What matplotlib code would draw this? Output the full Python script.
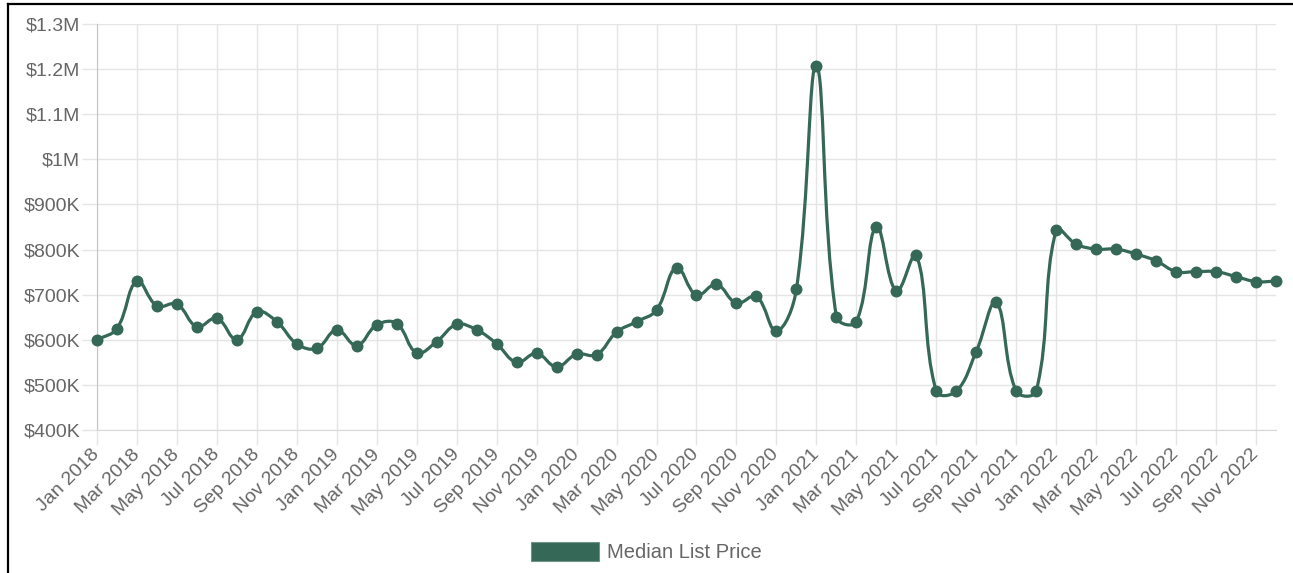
import numpy as np
import matplotlib
matplotlib.use("Agg")
import matplotlib.pyplot as plt
from matplotlib.path import Path
from matplotlib.patches import PathPatch, Patch
from matplotlib.lines import Line2D

# ---------------- data ----------------
years = [2018, 2019, 2020, 2021, 2022]
month_abbr = ["Jan", "Feb", "Mar", "Apr", "May", "Jun",
              "Jul", "Aug", "Sep", "Oct", "Nov", "Dec"]
months = [f"{m} {y}" for y in years for m in month_abbr]

median_list_price = [
    # 2018
    600000, 625000, 730000, 675000, 679000, 629000, 648000, 600000, 662000, 640000, 591000, 581000,
    # 2019
    622000, 587000, 633000, 636000, 571000, 596000, 634000, 622000, 591000, 550000, 570000, 540000,
    # 2020
    568000, 567000, 617000, 640000, 666000, 760000, 699000, 723000, 681000, 696000, 619000, 712000,
    # 2021
    1208000, 651000, 640000, 851000, 708000, 788000, 486000, 486000, 574000, 683000, 486000, 486000,
    # 2022
    843000, 812000, 801000, 801000, 790000, 775000, 751000, 751000, 751000, 740000, 729000, 730000,
]

y_ticks = [400000, 500000, 600000, 700000, 800000, 900000, 1000000, 1100000, 1200000, 1300000]
y_tick_labels = ["$400K", "$500K", "$600K", "$700K", "$800K", "$900K",
                 "$1M", "$1.1M", "$1.2M", "$1.3M"]
series_label = "Median List Price"

# ---------------- style ----------------
LINE_COLOR = "#356856"
GRID_COLOR = "#e5e5e5"
TEXT_COLOR = "#666666"
FONT = ["Liberation Sans", "DejaVu Sans"]
plt.rcParams["font.family"] = FONT

W, H = 1293, 573
fig = plt.figure(figsize=(W / 100, H / 100), dpi=100)
left, right, top, bottom = 97, 1276, 24, 430
ax = fig.add_axes([left / W, 1 - bottom / H, (right - left) / W, (bottom - top) / H])

x = np.arange(len(median_list_price))
v = np.array(median_list_price, dtype=float)

ax.set_xlim(0, len(x) - 1)
ax.set_ylim(y_ticks[0], y_ticks[-1])

ax.set_xticks(x[::2])
ax.set_xticklabels(months[::2], rotation=45, ha="right", va="center",
                   rotation_mode="anchor")
ax.set_yticks(y_ticks)
ax.set_yticklabels(y_tick_labels)

ax.grid(True, color=GRID_COLOR, linewidth=1.0)
ax.set_axisbelow(True)
for s in ["top", "right"]:
    ax.spines[s].set_visible(False)
ax.spines["left"].set_color("#c4c4c4")
ax.spines["bottom"].set_color("#d8d8d8")
ax.tick_params(axis="both", length=10.8, width=1.0, color=GRID_COLOR,
               labelcolor=TEXT_COLOR, labelsize=14)
ax.tick_params(axis="y", pad=1.2)
ax.tick_params(axis="x", pad=5)

# ---------- Chart.js-like bezier spline (tension 0.4) in pixel space ----------
fig.canvas.draw()
pts = ax.transData.transform(np.column_stack([x, v]))
tension = 0.4
n = len(pts)
cp_prev = np.zeros_like(pts)
cp_next = np.zeros_like(pts)
for i in range(n):
    cur = pts[i]
    prev = pts[i - 1] if i > 0 else cur
    nxt = pts[i + 1] if i < n - 1 else cur
    d01 = np.hypot(*(cur - prev))
    d12 = np.hypot(*(nxt - cur))
    tot = d01 + d12
    s01 = d01 / tot if tot else 0
    s12 = d12 / tot if tot else 0
    fa = tension * s01
    fb = tension * s12
    cp_prev[i] = cur - fa * (nxt - prev)
    cp_next[i] = cur + fb * (nxt - prev)

verts = [pts[0]]
codes = [Path.MOVETO]
for i in range(n - 1):
    verts += [cp_next[i], cp_prev[i + 1], pts[i + 1]]
    codes += [Path.CURVE4] * 3
inv = ax.transData.inverted()
verts_data = inv.transform(np.array(verts))
path = Path(verts_data, codes)
ax.add_patch(PathPatch(path, facecolor="none", edgecolor=LINE_COLOR,
                       linewidth=2.3, zorder=3, capstyle="round", joinstyle="round"))
ax.plot(x, v, linestyle="none", marker="o", markersize=8.6,
        markerfacecolor=LINE_COLOR, markeredgewidth=0, zorder=4, clip_on=False)

# ---------- legend ----------
handle = Patch(facecolor=LINE_COLOR, edgecolor="#6f9486", linewidth=0.8)
fig.legend(handles=[handle], labels=[series_label], loc="center",
           bbox_to_anchor=(0.5, 1 - 552 / H), frameon=False,
           fontsize=14.5, labelcolor=TEXT_COLOR,
           handlelength=3.4, handleheight=1.05, handletextpad=0.4)

# ---------- outer frame (left & top black lines) ----------
fig.add_artist(Line2D([7.5 / W, 7.5 / W], [0, 1 - 3.5 / H], color="black",
                      linewidth=1.6, transform=fig.transFigure))
fig.add_artist(Line2D([7.5 / W, 1], [1 - 3.5 / H, 1 - 3.5 / H], color="black",
                      linewidth=1.6, transform=fig.transFigure))

fig.savefig("out.png", dpi=100)
